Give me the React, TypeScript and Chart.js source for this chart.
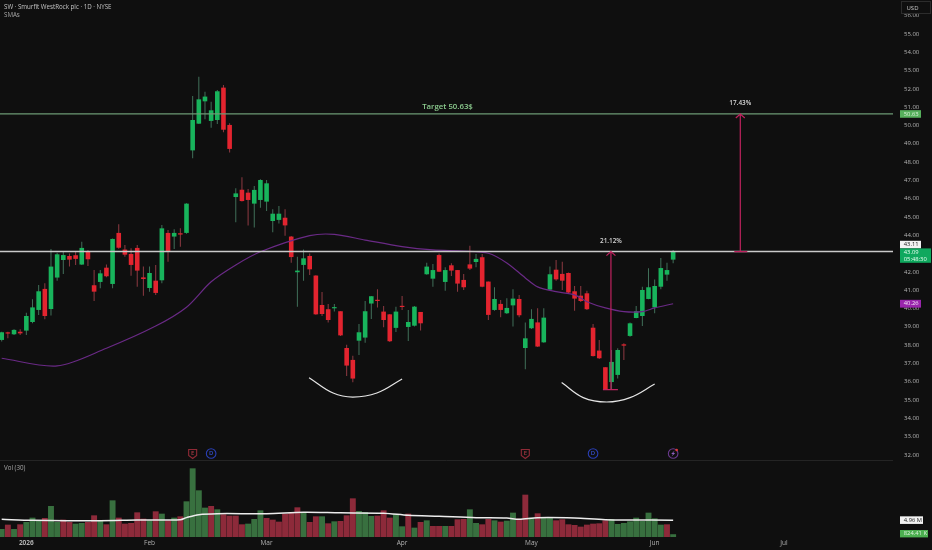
import React, { useEffect, useRef } from "react";
import { Chart, registerables } from "chart.js";

Chart.register(...registerables);

const opens = [38.28,38.66,38.59,38.73,38.79,39.26,39.92,41.07,39.97,41.69,42.65,42.87,42.91,42.40,43.09,41.27,41.45,42.23,41.34,44.13,43.22,42.98,43.31,41.70,41.12,41.52,41.54,44.13,43.93,44.11,44.13,48.64,50.10,51.32,50.25,50.30,52.07,50.03,46.09,46.49,46.33,45.73,45.93,45.84,44.78,44.84,44.96,43.93,41.98,42.38,42.87,41.80,40.19,39.96,40.01,39.85,37.84,37.19,38.24,38.41,40.27,40.47,39.83,39.68,38.94,40.14,38.99,39.06,39.81,41.87,41.63,42.92,41.45,42.36,42.10,41.56,42.41,42.54,42.80,41.47,39.92,40.25,39.74,40.17,40.52,37.84,38.92,39.24,38.15,41.03,42.12,41.89,41.94,40.94,40.70,40.83,38.95,37.70,36.79,35.98,36.37,38.04,38.50,39.48,39.59,40.52,40.06,41.19,41.85,42.67];
const highs = [38.73,38.73,38.86,38.86,39.77,40.50,41.28,41.38,43.25,43.05,43.14,43.01,43.11,43.65,43.20,42.10,42.10,42.41,43.83,44.60,43.47,43.29,43.47,42.29,42.29,42.38,44.56,44.29,44.33,44.38,45.75,51.61,52.67,51.85,51.30,51.94,52.21,50.12,46.57,47.17,46.53,46.69,47.06,47.02,45.42,45.60,45.42,43.96,42.83,43.23,43.01,41.82,40.90,40.25,40.25,39.85,38.02,37.42,39.15,40.41,40.68,41.05,40.14,39.70,40.10,40.68,39.92,40.14,39.81,42.50,42.43,43.01,42.25,42.47,42.10,41.89,43.43,42.98,42.98,41.47,41.16,40.47,40.56,41.05,40.74,39.23,39.96,40.01,40.01,42.29,42.65,42.56,41.96,41.23,41.23,40.97,39.15,38.28,36.79,37.73,37.82,38.10,39.23,40.14,41.19,42.20,41.59,42.76,42.50,43.20];
const lows = [38.19,38.37,38.55,38.55,38.55,39.19,39.65,39.41,39.61,41.52,41.89,42.29,42.38,42.38,42.32,40.41,41.10,41.70,41.10,43.27,42.83,41.79,41.19,40.70,40.92,40.74,41.38,42.56,43.25,43.38,44.09,48.21,50.08,50.34,49.88,50.08,49.63,48.52,44.71,45.84,44.53,44.42,45.51,45.33,44.16,44.65,43.98,42.50,40.10,41.52,41.83,39.66,39.59,39.23,39.83,38.50,36.31,35.97,37.46,38.13,39.43,40.06,38.97,38.17,38.72,39.92,38.22,39.01,38.79,41.85,41.19,42.00,40.97,41.78,40.92,41.01,42.10,42.25,41.16,39.37,39.88,39.52,39.70,39.01,39.52,36.68,38.88,37.90,38.13,41.01,41.52,41.01,40.83,39.88,40.36,39.92,37.37,37.24,35.55,35.55,36.18,37.19,38.46,39.46,39.04,40.50,39.74,41.05,41.52,42.47];
const closes = [38.70,38.63,38.83,38.64,39.59,40.06,40.94,39.59,42.29,42.96,42.92,42.67,42.71,43.31,42.69,40.92,41.92,41.76,43.80,43.32,42.94,42.38,42.07,41.61,41.94,40.85,44.38,43.11,44.13,44.04,45.73,50.30,51.43,51.58,50.83,51.87,49.77,48.72,46.29,45.87,45.93,46.48,47.02,46.84,45.18,45.18,44.54,42.81,42.07,42.74,42.14,39.68,39.70,39.37,40.06,38.53,36.88,36.17,38.70,39.85,40.67,40.41,39.37,38.21,39.83,40.08,39.26,40.10,39.19,42.29,42.10,42.01,42.10,42.07,41.36,41.16,42.18,42.71,41.19,39.65,40.52,39.92,40.03,40.54,39.63,38.37,39.43,37.92,39.50,41.87,41.59,41.52,40.87,40.54,40.41,39.96,37.40,37.28,35.58,37.08,37.73,37.97,39.19,39.85,41.01,41.16,41.23,42.21,42.10,43.09];

const volumes = [2.35,3.63,2.35,3.73,4.41,5.69,4.90,5.59,9.12,4.41,5.10,4.41,3.92,4.12,4.41,6.37,4.90,3.73,10.78,5.69,3.92,4.12,7.25,5.39,4.90,7.55,6.86,4.90,5.69,6.08,10.49,20.20,13.73,8.63,9.12,8.14,6.67,6.27,6.27,3.73,3.92,5.29,7.84,5.59,5.10,4.51,6.86,7.35,8.73,7.06,4.41,6.08,6.08,4.02,4.61,4.71,6.37,11.37,7.65,7.35,6.18,6.27,7.84,5.69,6.67,3.14,6.86,2.75,4.41,4.90,3.24,3.24,3.24,3.24,5.20,5.29,8.14,4.12,3.73,5.29,4.90,4.51,4.80,7.16,5.39,12.45,5.69,6.96,5.88,5.88,4.90,5.20,3.73,3.53,3.04,3.63,3.92,4.02,4.90,5.29,3.82,4.12,4.61,5.69,4.71,7.16,5.49,3.63,3.73,0.82];
const volDirections = ["GRGRGGGRGG","RRGGRRGRGR","RRRRGRGRGR","GGGGRGRRRR","GGGRRRRRRG","RRGRGRRRGG","GRRRGGRGRG","RRGRRRGGRR","GRGGRRGRGG","RRRRRRRRRG","GGGGGGGGRG"];

const smaIndex = [0,9,17,25,30,34,38,42,50,54,59,65,70,75,79,82,85,87,90,93,95,98,101,104,106,109];
const smaValues = [37.28,36.86,37.83,39.04,40.07,41.46,42.38,43.10,43.98,44.05,43.74,43.38,43.20,43.14,43.02,42.49,41.67,41.18,40.92,40.74,40.37,40.03,39.83,39.83,40.03,40.26];

const volMaIndex = [0,5,16,22,29,30,32,35,43,49,55,62,66,71,77,82,84,87,93,98,109];
const volMaValues = [5.2,4.9,4.8,5.0,5.1,5.7,6.57,6.86,6.86,7.25,7.1,7.0,6.37,6.08,5.69,5.59,5.2,5.69,5.59,5.1,4.96];

const cup1Index = [49.9,53.8,57,60.9,65];
const cup1Values = [36.22,35.38,35.16,35.38,36.15];
const cup2Index = [90.9,94.4,98.2,102,106];
const cup2Values = [35.95,35.13,34.89,35.13,35.87];

const priceTicks = [32,33,34,35,36,37,38,39,40,41,42,43,44,45,46,47,48,49,50,51,52,53,54,55,56];
const volTicks = [10,15,20];
const timeTickIndex = [4,24,43,65,86,106,127];
const timeTickLabels = ["2026","Feb","Mar","Apr","May","Jun","Jul"];

const targetPrice = 50.63;
const resistancePrice = 43.11;
const lastPrice = 43.09;
const smaLast = 40.26;
const volMaLast = "4.96 M";
const volLast = "824.41 K";
const arrow1 = { index: 98.9, from: 35.57, to: 43.11, label: "21.12%" };
const arrow2 = { index: 119.9, from: 43.11, to: 50.63, label: "17.43%" };
const eventMarks = [
  { index: 31, kind: "E" },
  { index: 34, kind: "D" },
  { index: 85, kind: "E" },
  { index: 96, kind: "D" },
  { index: 109, kind: "S" },
];

const FONT = '"Open Sans", sans-serif';
const BG = "#0f0f0f";
const UP = "#18b45c";
const DOWN = "#e3242f";
const UP_WICK = "#41705a";
const DOWN_WICK = "#8e3a42";
const VOL_UP = "#38703f";
const VOL_DOWN = "#8d2a3a";

const overlay = {
  id: "overlay",
  afterDatasetsDraw(chart: any) {
    const { ctx, scales } = chart;
    const { x, y } = scales;
    const yv = scales.yVol;
    const right = chart.chartArea.right;
    ctx.save();
    ctx.strokeStyle = "#242424";
    ctx.lineWidth = 1;
    ctx.beginPath();
    ctx.moveTo(0, 460.5);
    ctx.lineTo(right, 460.5);
    ctx.stroke();
    ctx.strokeStyle = "#6d9a74";
    ctx.lineWidth = 1.2;
    ctx.beginPath();
    ctx.moveTo(0, y.getPixelForValue(targetPrice));
    ctx.lineTo(right, y.getPixelForValue(targetPrice));
    ctx.stroke();
    ctx.strokeStyle = "#c9c9c9";
    ctx.lineWidth = 1.4;
    ctx.beginPath();
    ctx.moveTo(0, y.getPixelForValue(resistancePrice));
    ctx.lineTo(right, y.getPixelForValue(resistancePrice));
    ctx.stroke();
    for (const a of [arrow1, arrow2]) {
      const ax = x.getPixelForValue(a.index);
      const y0 = y.getPixelForValue(a.from);
      const y1 = y.getPixelForValue(a.to);
      ctx.strokeStyle = "#c0235f";
      ctx.lineWidth = 1.2;
      ctx.beginPath();
      ctx.moveTo(ax, y0);
      ctx.lineTo(ax, y1);
      ctx.moveTo(ax - 4.5, y1 + 4);
      ctx.lineTo(ax, y1);
      ctx.lineTo(ax + 4.5, y1 + 4);
      ctx.moveTo(ax - (a === arrow1 ? 8 : 6), y0);
      ctx.lineTo(ax + 7, y0);
      ctx.stroke();
      ctx.fillStyle = "#d8d8d8";
      ctx.font = `600 6.4px ${FONT}`;
      ctx.textAlign = "center";
      ctx.textBaseline = "middle";
      ctx.fillText(a.label, ax, y1 - 10.5);
    }
    ctx.fillStyle = "#8ccc8f";
    ctx.font = `600 7.8px ${FONT}`;
    ctx.textAlign = "center";
    ctx.textBaseline = "middle";
    ctx.fillText("Target 50.63$", 447.5, 107);

    const my = 453.5;
    for (const m of eventMarks) {
      const mx = x.getPixelForValue(m.index);
      ctx.lineWidth = 1.1;
      if (m.kind === "E") {
        ctx.strokeStyle = "#8f2a36";
        ctx.beginPath();
        ctx.moveTo(mx - 4, my - 4);
        ctx.lineTo(mx + 4, my - 4);
        ctx.lineTo(mx + 4, my + 2);
        ctx.lineTo(mx, my + 5);
        ctx.lineTo(mx - 4, my + 2);
        ctx.closePath();
        ctx.stroke();
        ctx.fillStyle = "#a83a44";
        ctx.font = `600 6px ${FONT}`;
        ctx.fillText("E", mx, my - 0.5);
      } else if (m.kind === "D") {
        ctx.strokeStyle = "#2a3fb5";
        ctx.beginPath();
        ctx.arc(mx, my, 4.8, 0, Math.PI * 2);
        ctx.stroke();
        ctx.fillStyle = "#3550d0";
        ctx.font = `600 6px ${FONT}`;
        ctx.fillText("D", mx, my);
      } else {
        ctx.strokeStyle = "#6a3a8e";
        ctx.beginPath();
        ctx.arc(mx, my, 4.8, 0, Math.PI * 2);
        ctx.stroke();
        ctx.fillStyle = "#9060c0";
        ctx.beginPath();
        ctx.moveTo(mx + 1.5, my - 3);
        ctx.lineTo(mx - 2, my + 0.5);
        ctx.lineTo(mx - 0.2, my + 0.5);
        ctx.lineTo(mx - 1.5, my + 3);
        ctx.lineTo(mx + 2, my - 0.5);
        ctx.lineTo(mx + 0.2, my - 0.5);
        ctx.closePath();
        ctx.fill();
        ctx.fillStyle = "#e23a3a";
        ctx.beginPath();
        ctx.arc(mx + 3.5, my - 3.5, 1.3, 0, Math.PI * 2);
        ctx.fill();
      }
    }

    ctx.textAlign = "left";
    ctx.textBaseline = "middle";
    ctx.fillStyle = "#c4c4c4";
    ctx.font = `500 6.2px ${FONT}`;
    ctx.fillText("SW · Smurfit WestRock plc · 1D · NYSE", 4, 7.5);
    ctx.fillStyle = "#a8a8a8";
    ctx.fillText("SMAs", 4, 15.5);
    ctx.fillText("Vol (30)", 4, 468);

    const tag = (x0: number, x1: number, y0: number, y1: number, fill: string, color: string, lines: string[]) => {
      ctx.fillStyle = fill;
      ctx.fillRect(x0, y0, x1 - x0, y1 - y0);
      ctx.fillStyle = color;
      ctx.font = `500 5.8px ${FONT}`;
      ctx.textAlign = "left";
      ctx.textBaseline = "middle";
      const h = (y1 - y0) / lines.length;
      lines.forEach((t, i) => ctx.fillText(t, x0 + 3.8, y0 + h * (i + 0.5)));
    };
    const py = (v: number) => y.getPixelForValue(v);
    tag(900, 921, py(targetPrice) - 3.8, py(targetPrice) + 3.8, "#56b05c", "#d8f2d8", [targetPrice.toFixed(2)]);
    tag(900, 921, 240.8, 248.4, "#f2f2f2", "#222222", [resistancePrice.toFixed(2)]);
    tag(900, 931, 248.4, 262.8, "#0fa85e", "#e6fff0", [lastPrice.toFixed(2), "05:48:30"]);
    tag(900, 921, py(smaLast) - 3.9, py(smaLast) + 3.9, "#9a26ad", "#f4e4f8", [smaLast.toFixed(2)]);
    tag(900, 923, yv.getPixelForValue(4.96) - 3.8, yv.getPixelForValue(4.96) + 3.8, "#f2f2f2", "#222222", [volMaLast]);
    tag(900, 928, 530, 537.4, "#4caf50", "#dff5df", [volLast]);
    ctx.fillStyle = BG;
    ctx.fillRect(901.5, 1.5, 29, 12);
    ctx.strokeStyle = "#2c2c2c";
    ctx.lineWidth = 1;
    ctx.strokeRect(901.5, 1.5, 29, 12);
    ctx.fillStyle = "#c8c8c8";
    ctx.font = `500 6px ${FONT}`;
    ctx.fillText("USD", 906.5, 8);
    ctx.restore();
  },
};

export default function App() {
  const ref = useRef<HTMLCanvasElement | null>(null);
  useEffect(() => {
    document.body.style.margin = "0";
    document.body.style.background = BG;
    const idx = opens.map((_, i) => i);
    const volDir = volDirections.join("");
    const noPadFit = (w?: number, h?: number) => (s: any) => {
      if (w !== undefined) s.width = w;
      if (h !== undefined) s.height = h;
      s.paddingTop = 0;
      s.paddingBottom = 0;
      s.paddingLeft = 0;
      s.paddingRight = 0;
    };
    const chart = new Chart(ref.current as HTMLCanvasElement, {
      type: "bar",
      data: {
        datasets: [
          {
            type: "bar",
            label: "Vol",
            yAxisID: "yVol",
            data: idx.map((i) => ({ x: i, y: volumes[i] })),
            backgroundColor: idx.map((i) => (volDir[i] === "G" ? VOL_UP : VOL_DOWN)),
            barThickness: 5.9,
            inflateAmount: 0,
            grouped: false,
            order: 6,
          },
          {
            type: "bar",
            label: "Wicks",
            yAxisID: "y",
            data: idx.map((i) => ({ x: i, y: [lows[i], highs[i]] })),
            backgroundColor: idx.map((i) => (closes[i] >= opens[i] ? UP_WICK : DOWN_WICK)),
            barThickness: 1,
            inflateAmount: 0,
            grouped: false,
            order: 5,
          },
          {
            type: "bar",
            label: "Bodies",
            yAxisID: "y",
            data: idx.map((i) => ({ x: i, y: [opens[i], closes[i]] })),
            backgroundColor: idx.map((i) => (closes[i] >= opens[i] ? UP : DOWN)),
            barThickness: 4.6,
            inflateAmount: 0,
            minBarLength: 1.2,
            grouped: false,
            order: 4,
          },
          {
            type: "line",
            label: "SMA",
            yAxisID: "y",
            data: smaIndex.map((v, i) => ({ x: v, y: smaValues[i] })),
            borderColor: "#6a2a86",
            borderWidth: 1.2,
            pointRadius: 0,
            tension: 0.3,
            order: 3,
          },
          {
            type: "line",
            label: "Vol MA",
            yAxisID: "yVol",
            data: volMaIndex.map((v, i) => ({ x: v, y: volMaValues[i] })),
            borderColor: "#ececec",
            borderWidth: 1.5,
            pointRadius: 0,
            tension: 0.3,
            order: 2,
          },
          {
            type: "line",
            label: "Cup 1",
            yAxisID: "y",
            data: cup1Index.map((v, i) => ({ x: v, y: cup1Values[i] })),
            borderColor: "#e6e6e6",
            borderWidth: 1.2,
            pointRadius: 0,
            tension: 0.4,
            order: 1,
          },
          {
            type: "line",
            label: "Cup 2",
            yAxisID: "y",
            data: cup2Index.map((v, i) => ({ x: v, y: cup2Values[i] })),
            borderColor: "#e6e6e6",
            borderWidth: 1.2,
            pointRadius: 0,
            tension: 0.4,
            order: 1,
          },
        ],
      } as any,
      options: {
        responsive: false,
        animation: false,
        devicePixelRatio: 1,
        layout: { padding: 0 },
        plugins: { legend: { display: false }, tooltip: { enabled: false } },
        scales: {
          x: {
            type: "linear",
            offset: false,
            min: -0.276,
            max: 144.69,
            grid: { display: false, drawTicks: false },
            border: { display: false },
            afterBuildTicks: (s: any) => {
              s.ticks = timeTickIndex.map((value) => ({ value }));
            },
            afterFit: noPadFit(undefined, 13),
            ticks: {
              autoSkip: false,
              maxRotation: 0,
              padding: 2,
              color: "#b0b0b0",
              font: (c: any) => ({
                family: FONT,
                size: 6.5,
                weight: c.tick && c.tick.value === timeTickIndex[0] ? "700" : "500",
              }),
              callback: (v: any) => timeTickLabels[timeTickIndex.indexOf(Number(v))],
            },
          },
          y: {
            type: "linear",
            position: "right",
            weight: 2,
            min: 27.512,
            max: 56.858,
            grid: { display: false, drawTicks: false },
            border: { display: false },
            afterBuildTicks: (s: any) => {
              s.ticks = priceTicks.map((value) => ({ value }));
            },
            afterFit: noPadFit(39),
            ticks: {
              autoSkip: false,
              padding: 11,
              color: "#b4b4b4",
              font: { family: FONT, size: 6, weight: "500" },
              callback: (v: any) => Number(v).toFixed(2),
            },
          },
          yVol: {
            type: "linear",
            position: "right",
            weight: 1,
            min: 0,
            max: 157.94,
            grid: { display: false, drawTicks: false },
            border: { display: false },
            afterBuildTicks: (s: any) => {
              s.ticks = volTicks.map((value) => ({ value }));
            },
            afterFit: noPadFit(0),
            ticks: {
              autoSkip: false,
              padding: 11,
              color: "#b4b4b4",
              font: { family: FONT, size: 6, weight: "500" },
              callback: (v: any) => `${v} M`,
            },
          },
        },
      } as any,
      plugins: [overlay],
    });
    return () => chart.destroy();
  }, []);
  return (
    <div style={{ position: "fixed", left: 0, top: 0, width: 932, height: 550, background: BG }}>
      <canvas ref={ref} width={932} height={550} style={{ display: "block" }} />
    </div>
  );
}
